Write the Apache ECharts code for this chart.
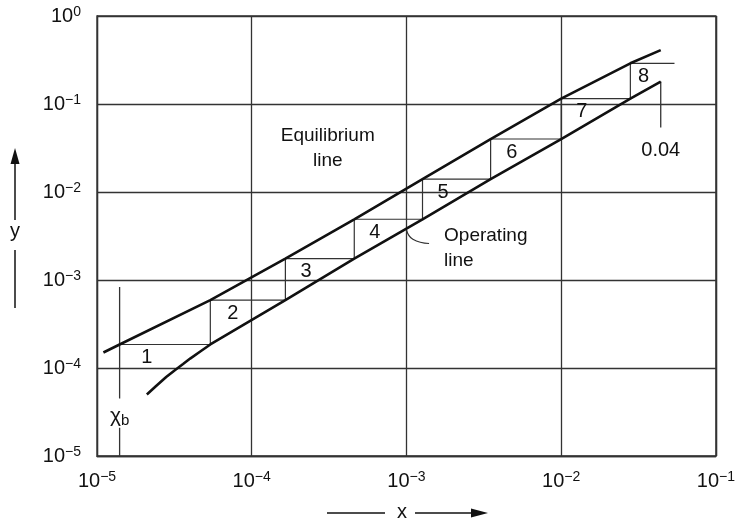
<!DOCTYPE html>
<html>
<head>
<meta charset="utf-8">
<script src="https://cdn.jsdelivr.net/npm/echarts@6/dist/echarts.min.js"></script>
<style>
  html, body { margin: 0; padding: 0; background: #fff; }
  #chart { width: 738px; height: 521px; }
</style>
</head>
<body>
<div id="chart"></div>
<script>
// McCabe-Thiele style stepping on log-log axes (x = liquid, y = gas)

// tick labels (powers of ten)
const xTickExp = [-5, -4, -3, -2, -1];
const yTickExp = [-5, -4, -3, -2, -1, 0];

// stage corners on the equilibrium line (start of each horizontal step)
const stageX = [1.4e-5, 5.4e-5, 1.65e-4, 4.6e-4, 1.27e-3, 3.5e-3, 1.0e-2, 2.8e-2];
const stageY = [1.85e-4, 5.9e-4, 1.75e-3, 4.9e-3, 1.4e-2, 4.0e-2, 0.115, 0.29];
const stageNames = ['1', '2', '3', '4', '5', '6', '7', '8'];
const lastStepEndX = 0.054;

// equilibrium line ends
const eqStart = [1.1e-5, 1.5e-4];
const eqEnd = [0.044, 0.41];

// curved foot of the operating line near x_b
const opCurveX = [2.1e-5, 2.4e-5, 2.8e-5, 3.2e-5, 3.6e-5, 4.0e-5, 4.7e-5];
const opCurveY = [5.0e-5, 6.2e-5, 7.9e-5, 9.5e-5, 1.11e-4, 1.28e-4, 1.56e-4];
const opEnd = [0.044, 0.18];

// x_b marker and the 0.04 marker
const xb = 1.4e-5;
const xbUpper = [8.3e-4, 4.5e-5];
const xbLower = [2.1e-5, 1.0e-5];
const xbLabelY = 2.8e-5;
const topMarkX = 0.044;
const topMarkLowY = 0.054;
const topMarkLabelY = 0.03;

// pointer from the operating line to its label
const opPointer = [[1.0e-3, 3.7e-3], [1.1e-3, 2.9e-3], [1.4e-3, 2.6e-3]];

const FONT = 'Liberation Sans, Arial, sans-serif';
const INK = '#111';

// equilibrium line through the stage corners
const eqData = [eqStart].concat(stageX.map((x, i) => [x, stageY[i]])).concat([eqEnd]);

// operating line: curved foot, then the lower corners of the steps
const opData = opCurveX.map((x, i) => [x, opCurveY[i]]);
for (let i = 0; i < stageX.length - 1; i++) {
    opData.push([stageX[i + 1], stageY[i]]);
}
opData.push(opEnd);

// staircase: horizontal to the operating line, vertical up to equilibrium
const stairData = [[stageX[0], stageY[0]]];
for (let i = 0; i < stageX.length; i++) {
    const right = i < stageX.length - 1 ? stageX[i + 1] : lastStepEndX;
    stairData.push([right, stageY[i]]);
    if (i < stageX.length - 1) stairData.push([right, stageY[i + 1]]);
}

// stage numbers sit under each horizontal step, about a third along
const stageLabelData = stageX.map((x, i) => {
    const right = i < stageX.length - 1 ? stageX[i + 1] : lastStepEndX;
    const lx = Math.pow(10, Math.log10(x) + 0.3 * (Math.log10(right) - Math.log10(x)));
    return { value: [lx, stageY[i]], label: { formatter: stageNames[i] } };
});

function powLabel(v) {
    const e = Math.round(Math.log10(v));
    const s = e < 0 ? '\u2212' + (-e) : String(e);
    return '{b|10}{s|' + s + '}';
}

const tickRich = {
    b: { fontSize: 20, lineHeight: 22, color: INK, fontFamily: FONT },
    s: { fontSize: 14, lineHeight: 22, verticalAlign: 'top', color: INK, fontFamily: FONT }
};

// plain dark labels, no outline from the (invisible) symbols
const noteLabel = {
    show: true,
    position: 'inside',
    color: INK,
    fontFamily: FONT,
    textBorderWidth: 0,
    textBorderColor: 'transparent',
    opacity: 1
};

const chart = echarts.init(document.getElementById('chart'), null, { renderer: 'canvas' });

const option = {
    animation: false,
    backgroundColor: '#fff',
    textStyle: { fontFamily: FONT, color: INK },
    grid: { left: 97, right: 16, top: 16, bottom: 65, show: true, borderColor: '#333', borderWidth: 1.3 },
    xAxis: {
        type: 'log',
        logBase: 10,
        min: Math.pow(10, xTickExp[0]),
        max: Math.pow(10, xTickExp[xTickExp.length - 1]),
        axisLine: { show: true, lineStyle: { color: '#333', width: 1.3 } },
        axisTick: { show: false },
        splitLine: { show: true, lineStyle: { color: '#333', width: 1.3 } },
        axisLabel: { margin: 14, formatter: powLabel, rich: tickRich }
    },
    yAxis: {
        type: 'log',
        logBase: 10,
        min: Math.pow(10, yTickExp[0]),
        max: Math.pow(10, yTickExp[yTickExp.length - 1]),
        axisLine: { show: true, lineStyle: { color: '#333', width: 1.3 } },
        axisTick: { show: false },
        splitLine: { show: true, lineStyle: { color: '#333', width: 1.3 } },
        axisLabel: { margin: 16, formatter: powLabel, rich: tickRich }
    },
    series: [
        {
            name: 'stairs',
            type: 'line',
            data: stairData,
            symbol: 'none',
            lineStyle: { color: '#333', width: 1.2 },
            z: 3
        },
        {
            name: 'Equilibrium line',
            type: 'line',
            data: eqData,
            symbol: 'none',
            lineStyle: { color: INK, width: 2.6 },
            z: 4
        },
        {
            name: 'Operating line',
            type: 'line',
            data: opData,
            symbol: 'none',
            lineStyle: { color: INK, width: 2.6 },
            z: 4
        },
        {
            name: 'xb marker upper',
            type: 'line',
            data: xbUpper.map(y => [xb, y]),
            symbol: 'none',
            lineStyle: { color: '#333', width: 1.3 }
        },
        {
            name: 'xb marker lower',
            type: 'line',
            data: xbLower.map(y => [xb, y]),
            symbol: 'none',
            lineStyle: { color: '#333', width: 1.3 }
        },
        {
            name: '0.04 marker',
            type: 'line',
            data: [opEnd, [topMarkX, topMarkLowY]],
            symbol: 'none',
            lineStyle: { color: '#333', width: 1.3 }
        },
        {
            name: 'op pointer',
            type: 'line',
            data: opPointer,
            smooth: true,
            symbol: 'none',
            lineStyle: { color: '#333', width: 1.2 }
        },
        {
            name: 'stage numbers',
            type: 'scatter',
            data: stageLabelData,
            symbolSize: 0,
            itemStyle: { color: INK },
            label: Object.assign({}, noteLabel, { offset: [0, 13], fontSize: 20 }),
            z: 5
        },
        {
            name: 'notes',
            type: 'scatter',
            symbolSize: 0,
            itemStyle: { color: INK },
            label: Object.assign({}, noteLabel, { fontSize: 19, lineHeight: 25 }),
            data: [
                { value: [3.1e-4, 0.031], label: { formatter: 'Equilibrium\nline', align: 'center' } },
                { value: [1.75e-3, 2.3e-3], label: { formatter: 'Operating\nline', align: 'left' } },
                { value: [topMarkX, topMarkLabelY], label: { formatter: '0.04', fontSize: 20 } },
                {
                    value: [xb, xbLabelY],
                    label: {
                        formatter: '{c|\u03c7}{sb|b}',
                        rich: {
                            c: { fontSize: 21, lineHeight: 24, color: INK, fontFamily: FONT },
                            sb: { fontSize: 15, lineHeight: 24, verticalAlign: 'bottom', color: INK, fontFamily: FONT }
                        }
                    }
                }
            ],
            z: 5
        }
    ],
    graphic: [
        // y axis title with arrow
        { type: 'line', shape: { x1: 15, y1: 162, x2: 15, y2: 220 }, style: { stroke: INK, lineWidth: 1.5 } },
        { type: 'polygon', shape: { points: [[15, 148], [10.5, 164], [19.5, 164]] }, style: { fill: INK } },
        { type: 'text', x: 15, y: 231, style: { text: 'y', fontSize: 20, fontFamily: FONT, fill: INK, align: 'center', verticalAlign: 'middle' } },
        { type: 'line', shape: { x1: 15, y1: 250, x2: 15, y2: 308 }, style: { stroke: INK, lineWidth: 1.5 } },
        // x axis title with arrow
        { type: 'line', shape: { x1: 327, y1: 513, x2: 385, y2: 513 }, style: { stroke: INK, lineWidth: 1.5 } },
        { type: 'text', x: 402, y: 512, style: { text: 'x', fontSize: 20, fontFamily: FONT, fill: INK, align: 'center', verticalAlign: 'middle' } },
        { type: 'line', shape: { x1: 415, y1: 513, x2: 474, y2: 513 }, style: { stroke: INK, lineWidth: 1.5 } },
        { type: 'polygon', shape: { points: [[488, 513], [471, 508.5], [471, 517.5]] }, style: { fill: INK } }
    ]
};

chart.setOption(option);
console.log('chart drawn', { stages: stageX.length });
</script>
</body>
</html>
